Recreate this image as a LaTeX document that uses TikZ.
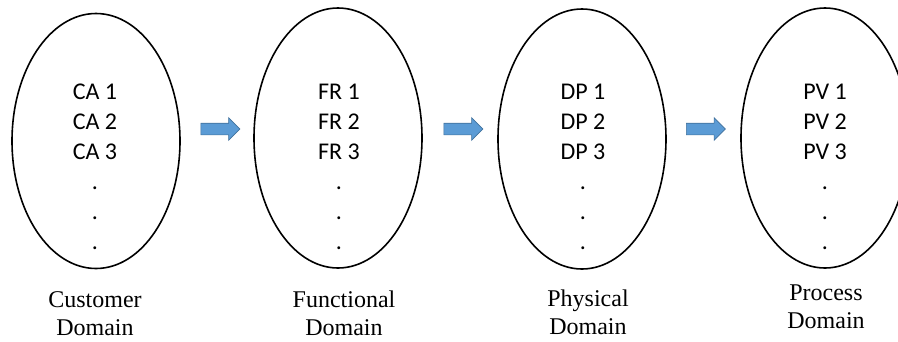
\documentclass[tikz,border=0pt]{standalone}
\usepackage{fontspec}
\setmainfont{Liberation Serif}
\newfontfamily\itemfont{Carlito}
\usetikzlibrary{shapes.geometric, shapes.arrows}
\definecolor{arrowfill}{HTML}{5B9BD5}
\definecolor{arrowline}{HTML}{41719C}
\tikzstyle{domainellipse} = [ellipse, draw=black, line width=1.6pt, minimum width=168pt, minimum height=260pt, inner sep=0pt]
\tikzstyle{itemlist} = [anchor=south, inner sep=0pt, align=center, font=\itemfont\fontsize{24}{30}\selectfont]
\tikzstyle{domainlabel} = [anchor=south, inner sep=0pt, align=center, font=\fontsize{24}{28}\selectfont]
\tikzstyle{blockarrow} = [single arrow, draw=arrowline, fill=arrowfill, line width=0.6pt, inner sep=5.5pt, minimum height=39pt, single arrow head extend=5.5pt, single arrow head indent=0pt]

\begin{document}
\begin{tikzpicture}[x=1pt,y=-1pt]
    \useasboundingbox (0,0) rectangle (898,341);

    \node at (96,141) [domainellipse,minimum height=255pt] (cust) {};
    \node at (338,138) [domainellipse] (func) {};
    \node at (582,139) [domainellipse] (phys) {};
    \node at (825,138) [domainellipse] (proc) {};

    \node at (95,250) [itemlist] (custitems) {CA 1\\CA 2\\CA 3\\.\\.\\.};
    \node at (339,250) [itemlist] (funcitems) {FR 1\\FR 2\\FR 3\\.\\.\\.};
    \node at (583,250) [itemlist] (physitems) {DP 1\\DP 2\\DP 3\\.\\.\\.};
    \node at (825,250) [itemlist] (procitems) {PV 1\\PV 2\\PV 3\\.\\.\\.};

    \node at (95,336) [domainlabel] (custlabel) {Customer\\Domain};
    \node at (344,336) [domainlabel] (funclabel) {Functional\\Domain};
    \node at (588,335) [domainlabel] (physlabel) {Physical\\Domain};
    \node at (826,329) [domainlabel] (proclabel) {Process\\Domain};

    \node at (217.5,129) [blockarrow] (arrow1) {};
    \node at (460.5,129) [blockarrow] (arrow2) {};
    \node at (703,129) [blockarrow] (arrow3) {};

\end{tikzpicture}
\end{document}
